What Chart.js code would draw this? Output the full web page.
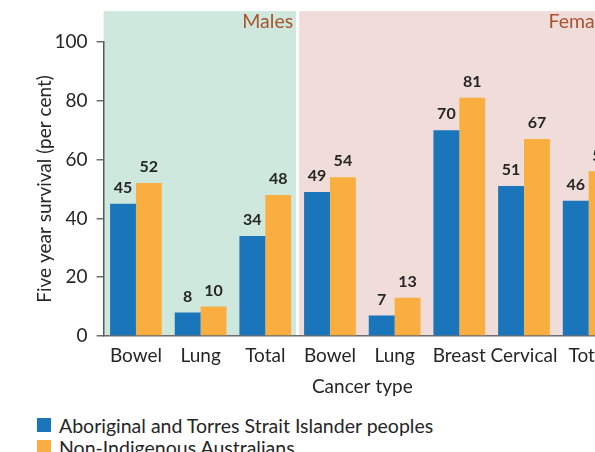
<!DOCTYPE html>
<html>
<head>
<meta charset="utf-8">
<script src="https://cdn.jsdelivr.net/npm/chart.js@4.4.0/dist/chart.umd.min.js"></script>
<style>
  html, body { margin: 0; padding: 0; background: #fff; overflow: hidden; width: 595px; height: 452px; }
  #wrap { position: relative; width: 625px; height: 404px; }
  #legend { position: absolute; left: 37px; top: 414px; font: 19.5px Lato, sans-serif; color: #262626; }
  .item { display: flex; align-items: center; height: 22px; white-space: nowrap; }
  .sw { width: 14px; height: 14px; margin-right: 8px; flex: none; }
</style>
</head>
<body>
<div id="wrap"><canvas id="chart" width="625" height="404"></canvas></div>
<div id="legend"></div>
<script>
var categories = ['Bowel', 'Lung', 'Total', 'Bowel', 'Lung', 'Breast', 'Cervical', 'Total'];
var indigenous = [45, 8, 34, 49, 7, 70, 51, 46];
var nonIndigenous = [52, 10, 48, 54, 13, 81, 67, 56];
var seriesNames = ['Aboriginal and Torres Strait Islander peoples', 'Non-Indigenous Australians'];
var seriesColors = ['#1b75bb', '#fbae40'];
var groups = ['Males', 'Females'];
var groupSizes = [3, 5];
var groupColors = ['#cfe8de', '#f0dcd8'];

Chart.defaults.font.family = 'Lato, sans-serif';
Chart.defaults.color = '#262626';

// shaded Males / Females panels behind the bars
var panels = {
  id: 'panels',
  beforeDraw: function(chart) {
    var ctx = chart.ctx, x = chart.scales.x, y = chart.scales.y;
    var step = x.getPixelForValue(1) - x.getPixelForValue(0);
    var top = y.getPixelForValue(110.5), bottom = y.getPixelForValue(0);
    var start = 0;
    ctx.save();
    groups.forEach(function(name, i) {
      var left = x.getPixelForValue(start) - step / 2;
      var right = x.getPixelForValue(start + groupSizes[i] - 1) + step / 2;
      if (i > 0) left += 1.5;
      if (i < groups.length - 1) right -= 1.5;
      ctx.fillStyle = groupColors[i];
      ctx.fillRect(left, top, right - left, bottom - top);
      ctx.fillStyle = '#a9532f';
      ctx.font = '19.5px Lato, sans-serif';
      ctx.textAlign = 'right';
      ctx.textBaseline = 'middle';
      ctx.fillText(name, right - 3, top + 11);
      start += groupSizes[i];
    });
    ctx.restore();
  }
};

// value above each bar
var valueLabels = {
  id: 'valueLabels',
  afterDatasetsDraw: function(chart) {
    var ctx = chart.ctx;
    ctx.save();
    ctx.font = 'bold 16px Lato, sans-serif';
    ctx.fillStyle = '#262626';
    ctx.textAlign = 'center';
    ctx.textBaseline = 'bottom';
    chart.data.datasets.forEach(function(ds, i) {
      chart.getDatasetMeta(i).data.forEach(function(bar, j) {
        ctx.fillText(ds.data[j], bar.x, bar.y - 8);
      });
    });
    ctx.restore();
  }
};

var chart = new Chart(document.getElementById('chart'), {
  type: 'bar',
  data: {
    labels: categories,
    datasets: [
      { label: seriesNames[0], data: indigenous, backgroundColor: seriesColors[0] },
      { label: seriesNames[1], data: nonIndigenous, backgroundColor: seriesColors[1] }
    ]
  },
  options: {
    responsive: false,
    animation: false,
    layout: { padding: { top: 42, right: 4, left: 0, bottom: 0 } },
    datasets: { bar: { categoryPercentage: 0.8, barPercentage: 1.0 } },
    plugins: { legend: { display: false }, tooltip: { enabled: false } },
    scales: {
      x: {
        grid: { display: false, drawTicks: false },
        border: { color: '#6d6d6d', width: 1.5 },
        ticks: { font: { size: 19 }, padding: 8, maxRotation: 0, autoSkip: false },
        title: { display: true, text: 'Cancer type', font: { size: 19 }, padding: { top: 0, bottom: 5.5 } },
        afterFit: function(s) { s.height = 68; }
      },
      y: {
        min: 0,
        max: 100,
        ticks: { stepSize: 20, font: { size: 19 }, padding: 9 },
        grid: { drawOnChartArea: false, drawTicks: true, tickLength: 7, color: '#6d6d6d', lineWidth: 1.5 },
        border: { color: '#595959', width: 1.5 },
        title: { display: true, text: 'Five year survival (per cent)', font: { size: 19 }, padding: { top: 33.5, bottom: 0 } },
        afterFit: function(s) { s.width = 103.6; }
      }
    }
  },
  plugins: [panels, valueLabels]
});

// legend stacked under the chart, built from the datasets
var legend = document.getElementById('legend');
chart.data.datasets.forEach(function(ds) {
  var row = document.createElement('div');
  row.className = 'item';
  var sw = document.createElement('span');
  sw.className = 'sw';
  sw.style.background = ds.backgroundColor;
  row.appendChild(sw);
  row.appendChild(document.createTextNode(ds.label));
  legend.appendChild(row);
});
</script>
</body>
</html>
